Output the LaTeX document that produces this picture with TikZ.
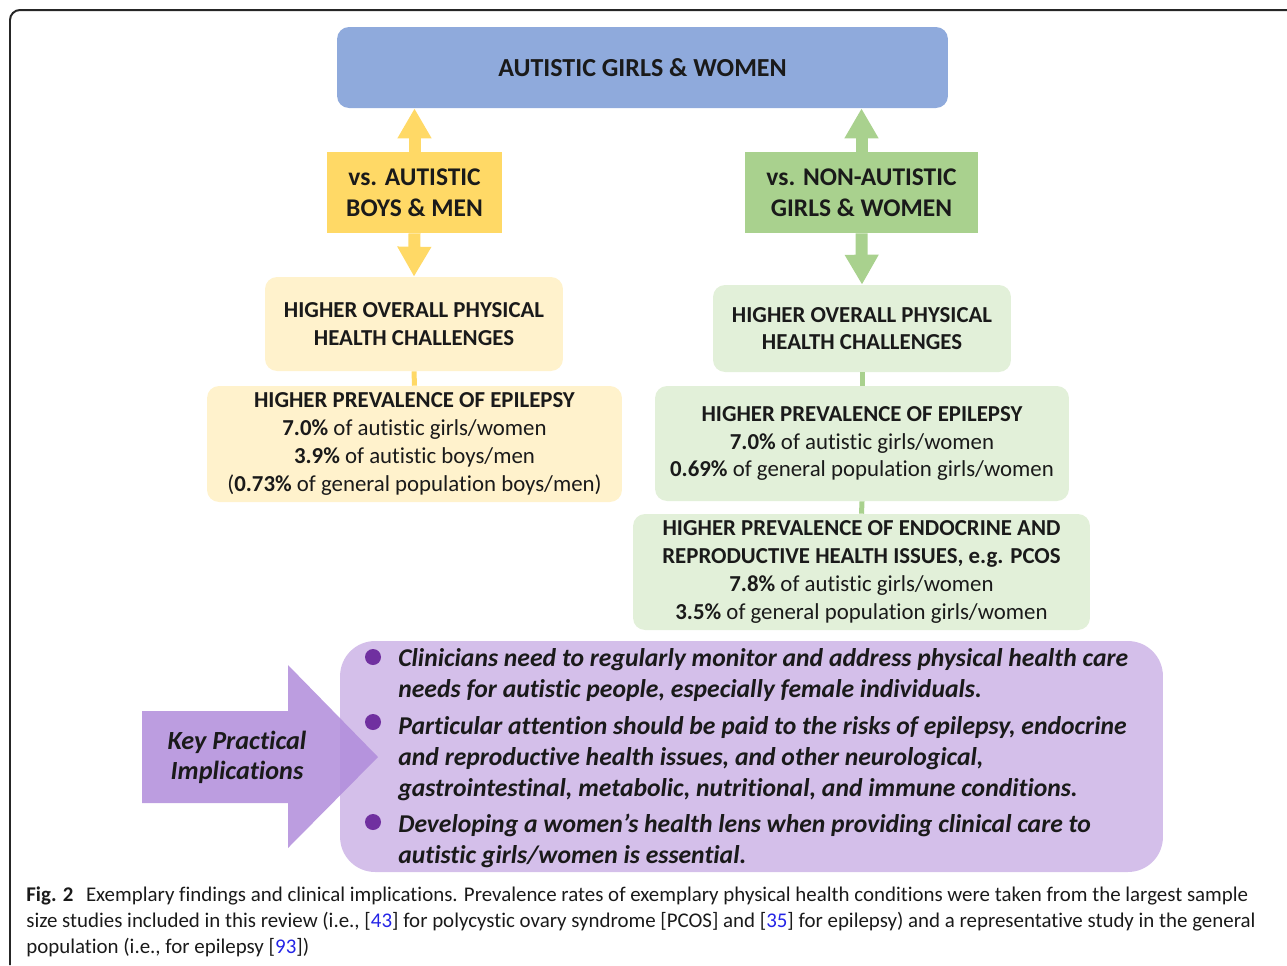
\documentclass[tikz,border=0pt]{standalone}
\usepackage{fontspec}
\setmainfont{Carlito}[Ligatures=NoCommon]
\usetikzlibrary{arrows.meta}

\definecolor{topblue}{HTML}{8FAADC}
\definecolor{yelstrong}{HTML}{FFD966}
\definecolor{yellight}{HTML}{FFF2CC}
\definecolor{grnstrong}{HTML}{A9D18E}
\definecolor{grnlight}{HTML}{E2F0D9}
\definecolor{lavender}{HTML}{D4BFEA}
\definecolor{arrowpurple}{HTML}{B08CDB}
\definecolor{bulletpurple}{HTML}{7030A0}
\definecolor{linkblue}{HTML}{2424E6}
\definecolor{inkgray}{HTML}{1A1A1A}

\begin{document}
\begin{tikzpicture}[x=0.02cm, y=-0.02cm,
	box/.style={rounded corners=0.24cm, inner sep=0pt, align=center, text=inkgray},
	vsbox/.style={inner sep=0pt, align=center, text=inkgray, minimum height=1.62cm,
		font=\fontsize{14.5}{17.6}\selectfont\bfseries},
	findings/.style={box, font=\fontsize{13}{15.8}\selectfont},
	yelarrow/.style={draw=yelstrong, line width=0.24cm, -{Triangle[width=0.64cm,length=0.6cm]}},
	grnarrow/.style={draw=grnstrong, line width=0.24cm, -{Triangle[width=0.64cm,length=0.6cm]}},
	yellink/.style={draw=yelstrong, line width=0.1cm},
	grnlink/.style={draw=grnstrong, line width=0.1cm},
	dot/.style={circle, fill=bulletpurple, minimum size=0.32cm, inner sep=0pt},
	implication/.style={align=left, inner sep=0pt, text=inkgray,
		font=\fontsize{14.6}{17.6}\selectfont\bfseries\itshape}]
	\useasboundingbox (0,0) rectangle (1287,965);
	%draw frame
	\draw [black!85, line width=0.04cm, rounded corners=0.2cm] (1287,10) -- (10,10) -- (10,965);
	
	%draw top box
	\node [box, fill=topblue, minimum width=12.22cm, minimum height=1.62cm,
		font=\fontsize{14.8}{17}\selectfont\bfseries] (girls) at (642.5,67.5) {AUTISTIC GIRLS \& WOMEN};
	
	%draw comparison boxes
	\node [vsbox, fill=yelstrong, minimum width=3.5cm] (vsboys) at (414.5,192.5) {vs. AUTISTIC\\BOYS \& MEN};
	\node [vsbox, fill=grnstrong, minimum width=4.66cm] (vsgirls) at (861.5,192.5) {vs. NON-AUTISTIC\\GIRLS \& WOMEN};
	
	%draw findings, left column
	\node [findings, fill=yellight, minimum width=5.96cm, minimum height=1.88cm] (yelone) at (414,324)
		{\textbf{HIGHER OVERALL PHYSICAL}\\\textbf{HEALTH CHALLENGES}};
	\node [findings, fill=yellight, minimum width=8.3cm, minimum height=2.32cm] (yeltwo) at (414.5,444)
		{\textbf{HIGHER PREVALENCE OF EPILEPSY}\\\textbf{7.0\%} of autistic girls/women\\
		\textbf{3.9\%} of autistic boys/men\\(\textbf{0.73\%} of general population boys/men)};
	
	%draw findings, right column
	\node [findings, fill=grnlight, minimum width=5.96cm, minimum height=1.74cm] (grnone) at (862,328.5)
		{\textbf{HIGHER OVERALL PHYSICAL}\\\textbf{HEALTH CHALLENGES}};
	\node [findings, fill=grnlight, minimum width=8.28cm, minimum height=2.3cm] (grntwo) at (862,443.5)
		{\textbf{HIGHER PREVALENCE OF EPILEPSY}\\\textbf{7.0\%} of autistic girls/women\\
		\textbf{0.69\%} of general population girls/women};
	\node [findings, fill=grnlight, minimum width=9.14cm, minimum height=2.32cm] (grnthree) at (861.5,572)
		{\textbf{HIGHER PREVALENCE OF ENDOCRINE AND}\\\textbf{REPRODUCTIVE HEALTH ISSUES, e.g. PCOS}\\
		\textbf{7.8\%} of autistic girls/women\\\textbf{3.5\%} of general population girls/women};
	
	%draw arrows and links
	\draw [yelarrow] (vsboys.north) -- (vsboys.north |- girls.south);
	\draw [yelarrow] (vsboys.south) -- (yelone.north);
	\draw [grnarrow] (vsgirls.north) -- (vsgirls.north |- girls.south);
	\draw [grnarrow] (vsgirls.south) -- (grnone.north);
	\draw [yellink] (yelone.south) -- (yeltwo.north);
	\draw [grnlink] (grnone.south) -- (grntwo.north);
	\draw [grnlink] (grntwo.south) -- (grnthree.north);
	
	%draw implications
	\node [rounded corners=0.7cm, fill=lavender, minimum width=16.46cm, minimum height=4.62cm] (panel) at (751.5,756.5) {};
	\fill [arrowpurple, opacity=0.85] (142,711) -- (288,711) -- (288,665) -- (378,757)
		-- (288,848) -- (288,803) -- (142,803) -- cycle;
	\node [align=center, text=inkgray, font=\fontsize{14.9}{17}\selectfont\bfseries\itshape] (keyimpl) at (237,757)
		{Key Practical\\Implications};
	\node [dot] (dotone) at (373,657) {};
	\node [dot] (dottwo) at (373,722) {};
	\node [dot] (dotthree) at (373,822) {};
	% base anchor sits on the last line
	\node [implication, anchor=base west] (implone) at (398,697)
		{Clinicians need to regularly monitor and address physical health care\\
		needs for autistic people, especially female individuals.};
	\node [implication, anchor=base west] (impltwo) at (398,796)
		{Particular attention should be paid to the risks of epilepsy, endocrine\\
		and reproductive health issues, and other neurological,\\
		gastrointestinal, metabolic, nutritional, and immune conditions.};
	\node [implication, anchor=base west] (implthree) at (398,863)
		{Developing a women’s health lens when providing clinical care to\\
		autistic girls/women is essential.};
	
	%draw caption
	\node [anchor=base west, align=left, inner sep=0pt, text=inkgray, font=\fontsize{11.9}{14.8}\selectfont] (caption) at (26,953)
		{\textbf{Fig. 2}\hspace{0.6em}Exemplary findings and clinical implications. Prevalence rates of exemplary physical health conditions were taken from the largest sample\\
		size studies included in this review (i.e., [\textcolor{linkblue}{43}] for polycystic ovary syndrome [PCOS] and [\textcolor{linkblue}{35}] for epilepsy) and a representative study in the general\\
		population (i.e., for epilepsy [\textcolor{linkblue}{93}])};
\end{tikzpicture}
\end{document}
